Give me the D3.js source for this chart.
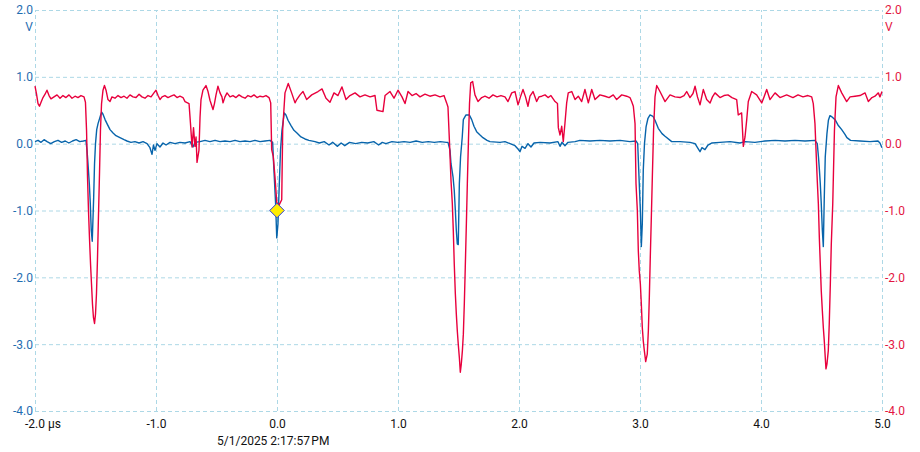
<!DOCTYPE html>
<html><head><meta charset="utf-8">
<script src="https://cdn.jsdelivr.net/npm/d3@7"></script>
<style>body{margin:0;background:#fff}svg{display:block;font-family:Roboto,"Noto Sans",sans-serif}</style>
</head><body><svg id="c" width="920" height="452"></svg>
<script>
const xTicks = [-2,-1,0,1,2,3,4,5];
const yTicks = [2,1,0,-1,-2,-3,-4];
const xUnit = "µs";
const yUnit = "V";
const timestamp = "5/1/2025 2:17:57\u202FPM";
const marker = [[0, -1.0]];

const red = [[-2.000,0.86],[-1.988,0.75],[-1.975,0.60],[-1.963,0.56],[-1.950,0.62],[-1.934,0.69],[-1.917,0.74],[-1.901,0.80],[-1.884,0.72],[-1.868,0.67],[-1.843,0.70],[-1.818,0.73],[-1.793,0.68],[-1.769,0.72],[-1.744,0.69],[-1.719,0.73],[-1.694,0.68],[-1.669,0.71],[-1.645,0.69],[-1.620,0.72],[-1.595,0.70],[-1.583,0.62],[-1.574,0.20],[-1.566,-0.50],[-1.558,-1.00],[-1.550,-1.40],[-1.541,-1.80],[-1.533,-2.10],[-1.525,-2.40],[-1.517,-2.60],[-1.508,-2.69],[-1.500,-2.55],[-1.492,-2.25],[-1.484,-1.75],[-1.475,-1.05],[-1.467,-0.45],[-1.459,0.20],[-1.450,0.60],[-1.438,0.80],[-1.426,0.87],[-1.413,0.80],[-1.397,0.66],[-1.380,0.63],[-1.364,0.70],[-1.339,0.68],[-1.314,0.72],[-1.289,0.69],[-1.264,0.71],[-1.240,0.68],[-1.215,0.73],[-1.190,0.70],[-1.165,0.69],[-1.140,0.74],[-1.116,0.70],[-1.091,0.68],[-1.066,0.72],[-1.041,0.70],[-1.017,0.76],[-1.000,0.80],[-0.983,0.72],[-0.967,0.66],[-0.950,0.70],[-0.926,0.72],[-0.901,0.69],[-0.876,0.71],[-0.851,0.73],[-0.826,0.69],[-0.802,0.71],[-0.777,0.69],[-0.760,0.63],[-0.727,0.60],[-0.715,0.30],[-0.702,-0.05],[-0.690,0.24],[-0.678,-0.04],[-0.669,0.10],[-0.661,-0.28],[-0.645,-0.10],[-0.636,0.40],[-0.628,0.66],[-0.612,0.80],[-0.587,0.87],[-0.570,0.78],[-0.554,0.65],[-0.529,0.51],[-0.517,0.60],[-0.504,0.73],[-0.488,0.86],[-0.471,0.76],[-0.455,0.70],[-0.446,0.61],[-0.430,0.70],[-0.413,0.76],[-0.388,0.70],[-0.364,0.72],[-0.339,0.69],[-0.314,0.73],[-0.289,0.70],[-0.264,0.68],[-0.240,0.72],[-0.215,0.70],[-0.190,0.73],[-0.165,0.69],[-0.140,0.71],[-0.116,0.70],[-0.091,0.72],[-0.066,0.69],[-0.052,0.61],[-0.044,-0.09],[-0.031,-0.19],[-0.017,-0.49],[-0.002,-0.88],[0.017,-0.92],[0.039,-0.84],[0.047,0.21],[0.066,0.76],[0.093,0.90],[0.121,0.76],[0.149,0.61],[0.163,0.66],[0.190,0.73],[0.215,0.78],[0.245,0.66],[0.287,0.73],[0.339,0.78],[0.372,0.82],[0.405,0.68],[0.438,0.62],[0.471,0.76],[0.504,0.72],[0.537,0.85],[0.570,0.66],[0.603,0.72],[0.645,0.76],[0.686,0.70],[0.727,0.73],[0.769,0.70],[0.810,0.72],[0.826,0.50],[0.876,0.48],[0.893,0.72],[0.934,0.78],[0.967,0.68],[1.000,0.80],[1.033,0.70],[1.058,0.60],[1.083,0.78],[1.116,0.72],[1.149,0.75],[1.182,0.70],[1.223,0.74],[1.264,0.71],[1.306,0.73],[1.347,0.70],[1.380,0.72],[1.402,0.61],[1.413,0.55],[1.426,0.00],[1.438,-0.55],[1.449,-0.90],[1.457,-1.30],[1.465,-1.80],[1.474,-2.25],[1.482,-2.55],[1.490,-2.80],[1.498,-3.00],[1.507,-3.20],[1.515,-3.42],[1.523,-3.30],[1.532,-3.10],[1.540,-2.85],[1.548,-2.40],[1.556,-1.85],[1.565,-1.20],[1.573,-0.60],[1.583,0.10],[1.591,0.60],[1.601,0.91],[1.617,0.93],[1.636,0.73],[1.661,0.63],[1.692,0.69],[1.719,0.71],[1.752,0.68],[1.785,0.73],[1.818,0.70],[1.851,0.72],[1.884,0.70],[1.909,0.63],[1.940,0.76],[1.967,0.78],[1.992,0.58],[2.012,0.70],[2.033,0.81],[2.054,0.70],[2.074,0.56],[2.091,0.71],[2.116,0.78],[2.146,0.63],[2.165,0.70],[2.188,0.71],[2.215,0.73],[2.240,0.69],[2.264,0.72],[2.298,0.63],[2.318,0.60],[2.325,0.24],[2.339,0.13],[2.353,0.26],[2.366,0.03],[2.380,0.31],[2.394,0.61],[2.407,0.76],[2.436,0.78],[2.463,0.66],[2.490,0.71],[2.518,0.63],[2.545,0.81],[2.573,0.61],[2.601,0.81],[2.628,0.66],[2.669,0.73],[2.711,0.71],[2.744,0.69],[2.779,0.73],[2.807,0.66],[2.849,0.73],[2.890,0.71],[2.917,0.69],[2.931,0.63],[2.945,0.56],[2.959,0.30],[2.967,-0.60],[2.978,-1.00],[2.986,-1.60],[2.994,-1.90],[3.003,-2.10],[3.011,-2.40],[3.019,-2.75],[3.027,-2.95],[3.036,-3.10],[3.047,-3.26],[3.060,-3.15],[3.069,-2.80],[3.077,-2.30],[3.085,-1.70],[3.093,-1.15],[3.102,-0.50],[3.112,0.20],[3.124,0.70],[3.138,0.87],[3.165,0.78],[3.207,0.63],[3.248,0.73],[3.289,0.70],[3.331,0.69],[3.364,0.72],[3.386,0.78],[3.413,0.69],[3.438,0.75],[3.455,0.86],[3.475,0.70],[3.496,0.58],[3.523,0.81],[3.551,0.66],[3.579,0.61],[3.599,0.70],[3.620,0.76],[3.661,0.69],[3.694,0.72],[3.727,0.73],[3.760,0.69],[3.799,0.66],[3.812,0.43],[3.840,0.46],[3.854,-0.04],[3.868,0.10],[3.882,0.36],[3.895,0.63],[3.923,0.78],[3.964,0.73],[4.006,0.61],[4.025,0.70],[4.047,0.81],[4.074,0.66],[4.116,0.76],[4.157,0.69],[4.212,0.73],[4.264,0.69],[4.306,0.73],[4.347,0.70],[4.388,0.72],[4.419,0.70],[4.432,0.60],[4.446,0.30],[4.457,-0.20],[4.465,-0.55],[4.474,-0.90],[4.482,-1.40],[4.490,-1.80],[4.498,-2.20],[4.507,-2.50],[4.515,-2.75],[4.523,-2.95],[4.531,-3.20],[4.537,-3.37],[4.545,-3.30],[4.556,-3.10],[4.564,-2.70],[4.573,-2.10],[4.581,-1.50],[4.593,-0.90],[4.598,-0.50],[4.607,0.20],[4.620,0.70],[4.639,0.87],[4.667,0.76],[4.708,0.63],[4.736,0.70],[4.777,0.71],[4.818,0.72],[4.860,0.76],[4.887,0.63],[4.917,0.69],[4.942,0.71],[4.970,0.76],[4.983,0.70],[5.000,0.78]];

const blue = [[-2.000,0.03],[-1.975,0.05],[-1.950,0.02],[-1.925,0.06],[-1.900,0.03],[-1.870,0.00],[-1.840,0.03],[-1.810,0.05],[-1.780,0.02],[-1.750,0.04],[-1.720,0.01],[-1.690,0.04],[-1.660,0.06],[-1.630,0.03],[-1.600,0.04],[-1.579,0.05],[-1.570,-0.10],[-1.562,-0.30],[-1.551,-0.60],[-1.543,-0.90],[-1.535,-1.30],[-1.527,-1.46],[-1.515,-0.80],[-1.508,-0.30],[-1.500,0.00],[-1.490,0.21],[-1.479,0.30],[-1.469,0.36],[-1.459,0.42],[-1.449,0.47],[-1.438,0.44],[-1.421,0.36],[-1.405,0.30],[-1.380,0.21],[-1.355,0.16],[-1.331,0.12],[-1.298,0.09],[-1.264,0.06],[-1.240,0.04],[-1.207,0.02],[-1.174,0.03],[-1.140,0.01],[-1.107,0.03],[-1.074,0.00],[-1.050,-0.06],[-1.033,-0.16],[-1.021,-0.02],[-1.008,-0.10],[-0.992,0.00],[-0.967,-0.05],[-0.942,0.01],[-0.917,-0.02],[-0.884,0.02],[-0.843,0.00],[-0.802,0.02],[-0.760,0.01],[-0.719,0.03],[-0.694,-0.05],[-0.678,0.02],[-0.636,0.03],[-0.595,0.05],[-0.554,0.03],[-0.512,0.05],[-0.471,0.03],[-0.430,0.04],[-0.388,0.03],[-0.347,0.05],[-0.306,0.03],[-0.264,0.04],[-0.223,0.03],[-0.182,0.05],[-0.140,0.03],[-0.099,0.04],[-0.058,0.05],[-0.036,0.02],[-0.028,-0.30],[-0.021,-0.55],[-0.012,-0.88],[-0.002,-1.41],[0.008,-1.20],[0.019,-0.60],[0.029,-0.10],[0.041,0.20],[0.052,0.35],[0.060,0.46],[0.074,0.43],[0.091,0.35],[0.116,0.27],[0.140,0.20],[0.165,0.16],[0.198,0.10],[0.231,0.07],[0.264,0.05],[0.314,0.03],[0.35,0.01],[0.39,0.03],[0.43,-0.02],[0.46,0.02],[0.50,-0.04],[0.53,0.01],[0.56,-0.03],[0.60,0.02],[0.65,0.00],[0.70,0.02],[0.75,0.01],[0.80,0.03],[0.84,-0.02],[0.87,0.02],[0.90,0.00],[0.95,0.03],[1.00,0.02],[1.05,0.03],[1.10,0.02],[1.15,0.04],[1.20,0.02],[1.25,0.03],[1.30,0.02],[1.35,0.03],[1.40,0.02],[1.413,0.02],[1.430,-0.10],[1.438,-0.30],[1.455,-0.50],[1.465,-0.70],[1.474,-1.00],[1.482,-1.30],[1.490,-1.50],[1.498,-1.51],[1.507,-0.60],[1.517,-0.20],[1.531,0.10],[1.540,0.36],[1.562,0.43],[1.589,0.43],[1.609,0.36],[1.628,0.26],[1.650,0.18],[1.678,0.13],[1.702,0.09],[1.736,0.05],[1.760,0.03],[1.843,0.02],[1.884,0.03],[1.926,0.00],[1.967,-0.03],[1.992,-0.08],[2.008,-0.12],[2.025,-0.04],[2.050,-0.07],[2.074,0.00],[2.099,-0.05],[2.124,0.01],[2.174,0.02],[2.256,0.01],[2.322,0.03],[2.339,-0.04],[2.355,0.02],[2.380,-0.03],[2.405,0.02],[2.463,0.03],[2.504,0.05],[2.587,0.04],[2.669,0.05],[2.752,0.04],[2.835,0.05],[2.917,0.03],[2.967,0.04],[2.981,0.00],[2.994,-0.60],[3.003,-1.00],[3.011,-1.54],[3.019,-1.20],[3.027,-0.40],[3.037,0.00],[3.050,0.25],[3.066,0.38],[3.083,0.43],[3.107,0.41],[3.124,0.35],[3.151,0.23],[3.182,0.15],[3.207,0.11],[3.262,0.03],[3.331,0.03],[3.413,0.02],[3.455,0.00],[3.479,-0.07],[3.496,-0.12],[3.512,-0.06],[3.537,-0.09],[3.562,-0.02],[3.595,0.01],[3.661,0.02],[3.744,0.03],[3.826,0.01],[3.868,0.03],[3.950,0.02],[4.033,0.04],[4.116,0.05],[4.198,0.04],[4.281,0.05],[4.364,0.04],[4.446,0.05],[4.465,0.00],[4.475,-0.20],[4.483,-0.40],[4.490,-0.60],[4.498,-0.90],[4.507,-1.30],[4.515,-1.54],[4.523,-0.80],[4.531,-0.20],[4.545,0.15],[4.557,0.35],[4.570,0.42],[4.587,0.40],[4.612,0.36],[4.636,0.28],[4.667,0.21],[4.694,0.14],[4.710,0.09],[4.740,0.05],[4.818,0.04],[4.901,0.03],[4.967,0.04],[4.983,0.01],[5.000,-0.06]];

const L = 35, R = 882, T = 10, B = 411;
const gridColor = "#add8e6";
const blueColor = "#0764ab", redColor = "#e8003d";
const blueText = "#1f6db1", redText = "#e3163f";

const svg = d3.select("#c");
const x = d3.scaleLinear().domain([-2,5]).range([L,R]);
const y = d3.scaleLinear().domain([-4,2]).range([B,T]);
const fmt = d => d.toFixed(1);

const gl = svg.append("g").attr("transform",`translate(${L},0)`)
  .call(d3.axisLeft(y).tickValues(yTicks).tickFormat(fmt).tickSize(-(R-L)).tickPadding(2));
gl.select(".domain").remove();
gl.selectAll(".tick line").attr("stroke",gridColor).attr("stroke-dasharray","4,3");
gl.selectAll(".tick text").attr("fill",blueText).attr("font-size",12).attr("font-family","Roboto");

const gr = svg.append("g").attr("transform",`translate(${R},0)`)
  .call(d3.axisRight(y).tickValues(yTicks).tickFormat(fmt).tickSize(0).tickPadding(3));
gr.select(".domain").remove();
gr.selectAll(".tick text").attr("fill",redText).attr("font-size",12).attr("font-family","Roboto");

const gb = svg.append("g").attr("transform",`translate(0,${B})`)
  .call(d3.axisBottom(x).tickValues(xTicks).tickFormat(fmt).tickSize(-(B-T)).tickPadding(8));
gb.select(".domain").remove();
gb.selectAll(".tick line").attr("stroke",gridColor).attr("stroke-dasharray","4,3");
gb.selectAll(".tick text").attr("fill","#111").attr("font-size",12).attr("font-family","Roboto");
gb.selectAll(".tick text").filter(d => d === xTicks[0])
  .attr("text-anchor","start").attr("x",-10.5).text(d => fmt(d) + " " + xUnit);

svg.append("text").attr("x",L-2).attr("y",31).attr("text-anchor","end")
  .attr("fill",blueText).attr("font-size",12).text(yUnit);
svg.append("text").attr("x",R+3).attr("y",31).attr("text-anchor","start")
  .attr("fill",redText).attr("font-size",12).text(yUnit);

svg.append("text").attr("x",217).attr("y",445).attr("fill","#111")
  .attr("font-size",12).text(timestamp);

const line = d3.line().x(d => x(d[0])).y(d => y(d[1]));
svg.append("path").datum(blue).attr("d",line).attr("fill","none")
  .attr("stroke",blueColor).attr("stroke-width",1.4).attr("stroke-linejoin","round");
svg.append("path").datum(red).attr("d",line).attr("fill","none")
  .attr("stroke",redColor).attr("stroke-width",1.4).attr("stroke-linejoin","round");

svg.selectAll("path.mk").data(marker).join("path").attr("class","mk")
  .attr("d", d3.symbol(d3.symbolDiamond2 || d3.symbolDiamond, 135))
  .attr("transform", d => `translate(${x(d[0])},${y(d[1])})`)
  .attr("fill","#ffee00").attr("stroke","#2a3bd6").attr("stroke-width",1);
</script></body></html>
